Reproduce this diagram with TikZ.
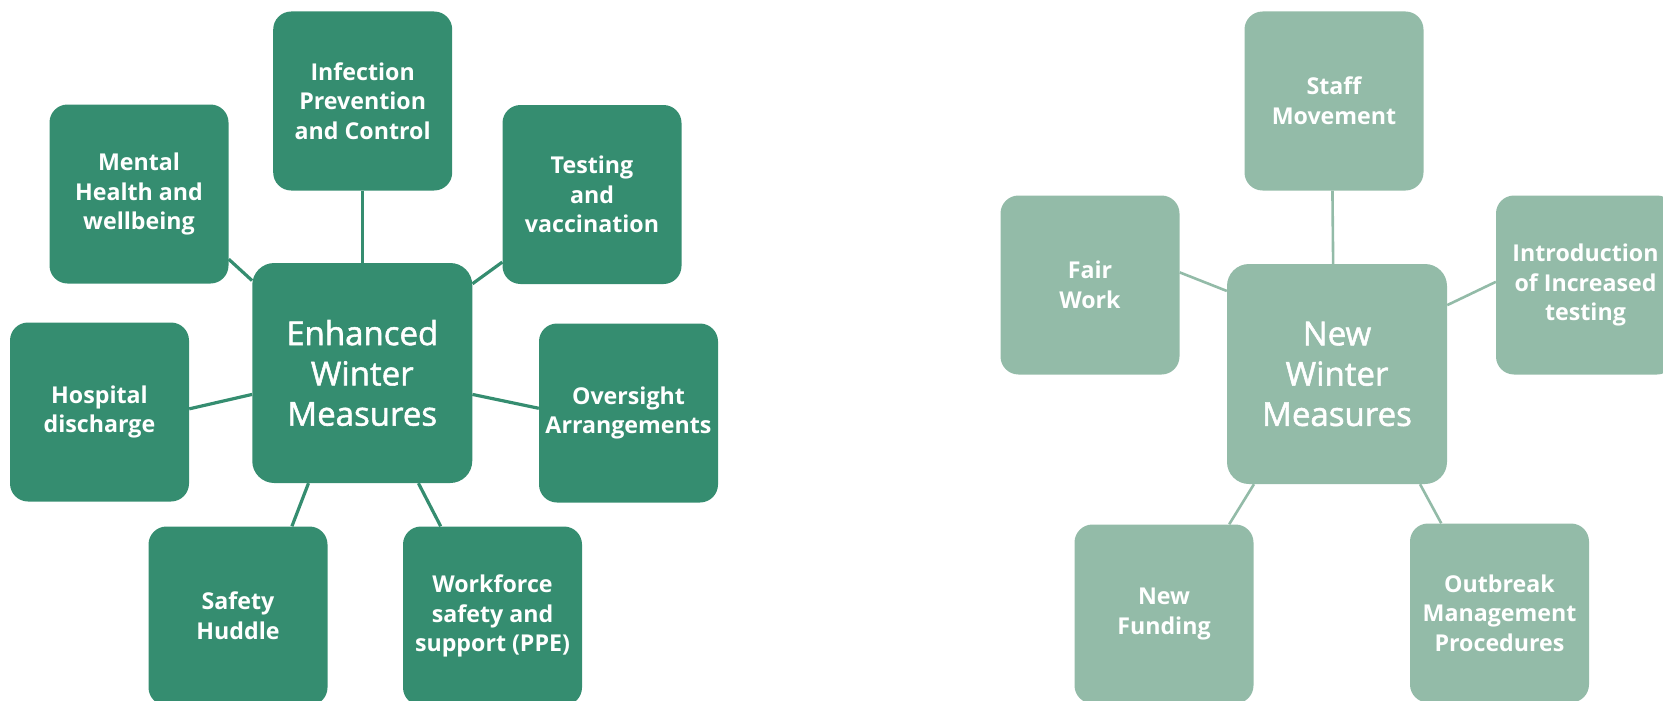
\documentclass[tikz,border=0pt]{standalone}
\usepackage{fontspec}
\setmainfont{Open Sans}
\newfontfamily\hubfont{Open Sans}[FakeBold=1.6]
\usetikzlibrary{backgrounds}
\definecolor{dk}{HTML}{358D70}
\definecolor{lt}{HTML}{93BBA8}
\tikzset{
  box/.style={rounded corners=18pt, minimum width=179pt, minimum height=179pt, inner sep=0pt,
    align=center, text=white, font=\bfseries\fontsize{23.2}{29.7}\selectfont},
  hub/.style={rounded corners=22pt, minimum width=220pt, minimum height=220pt, inner sep=0pt,
    align=center, text=white, font=\hubfont\fontsize{33}{40.3}\selectfont},
  dkbox/.style={box, fill=dk},
  ltbox/.style={box, fill=lt},
  dkhub/.style={hub, fill=dk},
  lthub/.style={hub, fill=lt},
  dkline/.style={draw=dk, line width=3.2pt},
  ltline/.style={draw=lt, line width=2.6pt}
}
\begin{document}
\begin{tikzpicture}[x=1pt, y=-1pt]
\useasboundingbox (0,0) rectangle (1663,701);
% left diagram
\node[dkhub] (enh) at (362.25,373) {Enhanced\\Winter\\Measures};
\node[dkbox] (inf) at (362.7,101) {Infection\\Prevention\\and Control};
\node[dkbox] (men) at (139,194) {Mental\\Health and\\wellbeing};
\node[dkbox] (tes) at (592,194.5) {Testing\\and\\vaccination};
\node[dkbox] (hos) at (99.5,412) {Hospital\\discharge};
\node[dkbox] (ove) at (628.5,413) {Oversight\\Arrangements};
\node[dkbox] (saf) at (238,616) {Safety\\Huddle};
\node[dkbox] (wor) at (492.5,616) {Workforce\\safety and\\support (PPE)};
% right diagram
\node[lthub] (new) at (1337,374) {New\\Winter\\Measures};
\node[ltbox] (sta) at (1334,101) {Staff\\Movement};
\node[ltbox] (fai) at (1090,285) {Fair\\Work};
\node[ltbox] (int) at (1585.5,285) {Introduction\\of Increased\\testing};
\node[ltbox] (fun) at (1164,614) {New\\Funding};
\node[ltbox] (out) at (1499.5,613) {Outbreak\\Management\\Procedures};
\begin{scope}[on background layer]
\draw[dkline] (inf.south) -- (inf.south |- enh.north);
\draw[dkline] (men.-36.8) -- (enh.140.7);
\draw[dkline] (tes.217) -- (enh.39.2);
\draw[dkline] (hos.2.3) -- (enh.191.6);
\draw[dkline] (ove.177.1) -- (enh.-11.1);
\draw[dkline] (saf.59.8) -- (enh.244.9);
\draw[dkline] (wor.120.4) -- (enh.-63.4);
\draw[ltline] (sta.269) -- (new.92.4);
\draw[ltline] (fai.8.1) -- (new.143.8);
\draw[ltline] (int.178.4) -- (new.32.3);
\draw[ltline] (fun.54.4) -- (new.233.9);
\draw[ltline] (out.123.6) -- (new.-53.9);
\end{scope}
\end{tikzpicture}
\end{document}
